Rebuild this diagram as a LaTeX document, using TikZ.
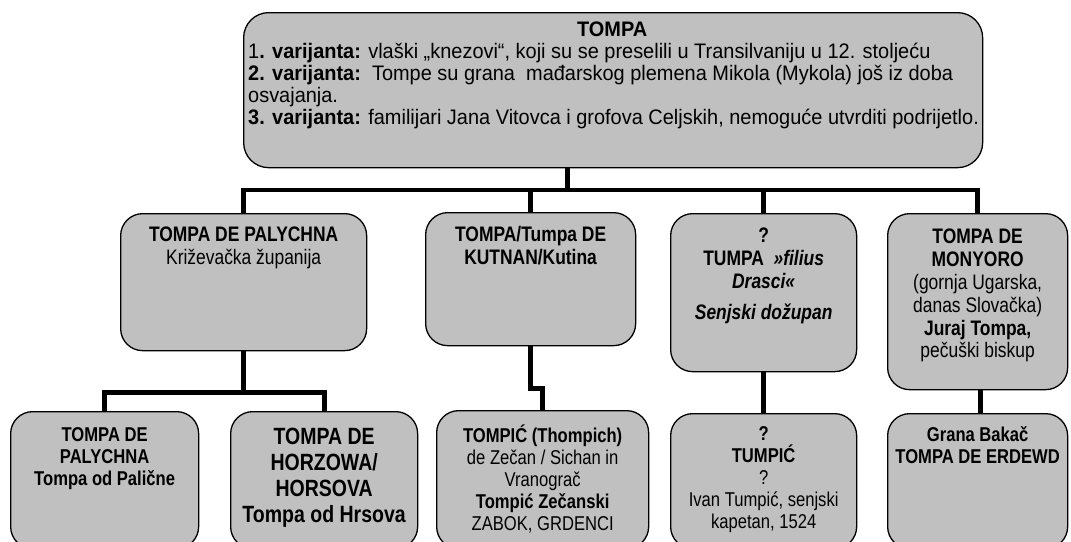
\documentclass[tikz,border=0pt]{standalone}
\usepackage{fontspec}
\setmainfont{Liberation Sans}[FakeStretch=0.83]
\newfontfamily\topfam{Liberation Sans}[FakeStretch=0.95]
\usetikzlibrary{positioning,calc}
\definecolor{famgray}{RGB}{192,192,192}

\begin{document}
\spaceskip=4pt\xspaceskip=4pt
\begin{tikzpicture}[x=1pt,y=-1pt,
  fambox/.style={draw, line width=1.3pt, fill=famgray, rounded corners=22pt, inner sep=0pt},
  famtext/.style={inner sep=0pt, align=center},
  link/.style={line width=4.8pt},
  txttop/.style={font=\topfam\fontsize{21}{22}\selectfont},
  txtmid/.style={font=\fontsize{21}{22.8}\selectfont},
  txtlow/.style={font=\fontsize{20}{22}\selectfont},
  txtlowbig/.style={font=\fontsize{23.5}{26}\selectfont}]
\useasboundingbox (0,0) rectangle (1071,541);

% boxes
\node[fambox, rounded corners=25pt, minimum width=739pt, minimum height=155pt, anchor=north west] (tompa) at (243,12) {};
\node[fambox, minimum width=246pt, minimum height=137pt, anchor=north west] (pal) at (120,213) {};
\node[fambox, minimum width=210pt, minimum height=133pt, anchor=north west] (kut) at (425,212) {};
\node[fambox, minimum width=186pt, minimum height=158pt, anchor=north west] (fil) at (670,213) {};
\node[fambox, minimum width=180pt, minimum height=176pt, anchor=north west] (mon) at (887,213) {};
\node[fambox, minimum width=188pt, minimum height=137pt, anchor=north west] (p1) at (10,411) {};
\node[fambox, minimum width=187pt, minimum height=137pt, anchor=north west] (p2) at (230,411) {};
\node[fambox, minimum width=212pt, minimum height=138pt, anchor=north west] (t1) at (436,410) {};
\node[fambox, minimum width=186pt, minimum height=135pt, anchor=north west] (t2) at (670,413) {};
\node[fambox, minimum width=180pt, minimum height=135pt, anchor=north west] (t3) at (887,413) {};

% texts
\node[famtext, txttop, align=left, anchor=north west] (tompatxt) at (248,22)
  {\makebox[728pt]{\textbf{TOMPA}}\\
   1\textbf{. varijanta:} vlaški „knezovi“, koji su se preselili u Transilvaniju u 12. stoljeću\\
   \textbf{2. varijanta:}\ \ Tompe su grana\ \ mađarskog plemena Mikola (Mykola) još iz doba\\
   osvajanja.\\
   \textbf{3. varijanta:} familijari Jana Vitovca i grofova Celjskih, nemoguće utvrditi podrijetlo.};
\node[famtext, txtmid, below=14pt of pal.north] (paltxt)
  {\textbf{TOMPA DE PALYCHNA}\\Križevačka županija};
\node[famtext, txtmid, below=14pt of kut.north] (kuttxt)
  {\textbf{TOMPA/Tumpa DE}\\\textbf{KUTNAN/Kutina}};
\node[famtext, txtmid, below=15pt of fil.north] (filtxt)
  {\textbf{?}\\\textbf{TUMPA}\ \ \textbf{\textit{»filius}}\\\textbf{\textit{Drasci«}}\\[8pt]\textbf{\textit{Senjski dožupan}}};
\node[famtext, txtmid, below=16pt of mon.north] (montxt)
  {\textbf{TOMPA DE}\\\textbf{MONYORO}\\(gornja Ugarska,\\danas Slovačka)\\\textbf{Juraj Tompa,}\\pečuški biskup};
\node[famtext, txtlow, below=16pt of p1.north] (p1txt)
  {\textbf{TOMPA DE}\\\textbf{PALYCHNA}\\\textbf{Tompa od Palične}};
\node[famtext, txtlowbig, below=17pt of p2.north] (p2txt)
  {\textbf{TOMPA DE}\\\textbf{HORZOWA/}\\\textbf{HORSOVA}\\\textbf{Tompa od Hrsova}};
\node[famtext, txtlow, below=15pt of t1.north] (t1txt)
  {\textbf{TOMPIĆ (Thompich)}\\de Zečan / Sichan in\\Vranograč\\\textbf{Tompić Zečanski}\\ZABOK, GRDENCI};
\node[famtext, txtlow, below=13pt of t2.north] (t2txt)
  {\textbf{?}\\\textbf{TUMPIĆ}\\?\\Ivan Tumpić, senjski\\kapetan, 1524};
\node[famtext, txtlow, below=13pt of t3.north] (t3txt)
  {\textbf{Grana Bakač}\\\textbf{TOMPA DE ERDEWD}};

% connectors
\coordinate (palsplit) at ($(pal.south)+(0,41)$);
\draw[link] ([xshift=-46pt]tompa.south) -- ++(0,23);
\draw[link] (pal.north) -- ++(0,-23) -| (mon.north);
\draw[link] (kut.north) -- ++(0,-22);
\draw[link] (fil.north) -- ++(0,-23);
\draw[link] (pal.south) -- (palsplit);
\draw[link] (p1.north) |- (palsplit) -| (p2.north);
\draw[link] (kut.south) -- ++(0,42) -| (t1.north);
\draw[link] (fil.south) -- (t2.north);
\draw[link] ([xshift=3pt]mon.south) -- ([xshift=3pt]t3.north);
\end{tikzpicture}
\end{document}
